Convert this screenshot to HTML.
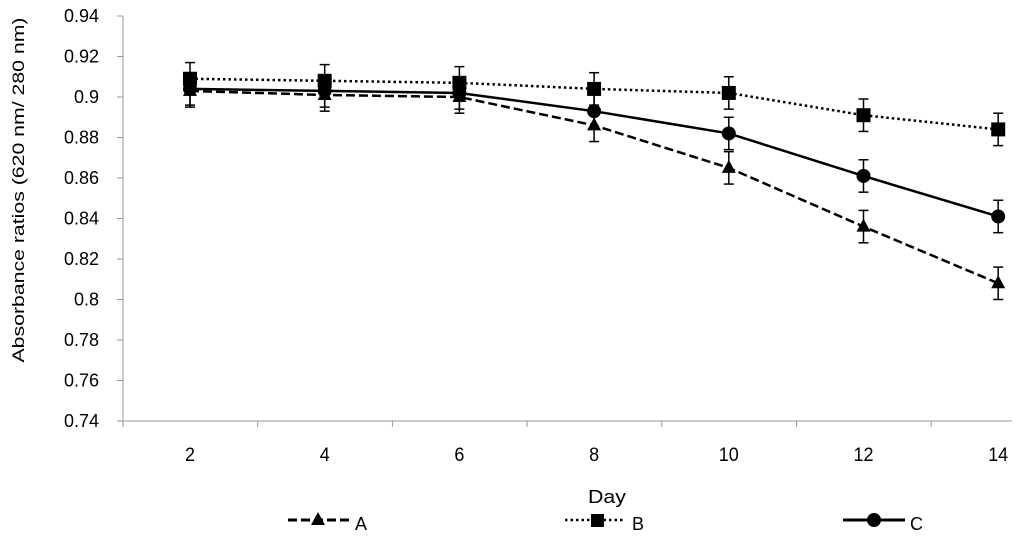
<!DOCTYPE html>
<html><head><meta charset="utf-8"><style>
body{margin:0;background:#fff;}
svg text{font-family:"Liberation Sans",sans-serif;fill:#000;}
</style></head><body>
<svg id="chart" width="1024" height="540" xmlns="http://www.w3.org/2000/svg">
<g id="axes"></g><g id="series"></g>
<text transform="translate(24,190) rotate(-90)" text-anchor="middle" font-size="17" textLength="345" lengthAdjust="spacingAndGlyphs">Absorbance ratios (620 nm/ 280 nm)</text>
<text x="607" y="503" text-anchor="middle" font-size="18" textLength="38" lengthAdjust="spacingAndGlyphs">Day</text>
<g>
<g><line x1="288" y1="520" x2="350" y2="520" stroke="#000" stroke-width="3" stroke-dasharray="9,4"/><polygon points="318,512 311,525 325,525"/><text x="355" y="530" font-size="18">A</text></g>
<g><line x1="565" y1="520" x2="625" y2="520" stroke="#000" stroke-width="2.5" stroke-dasharray="2.5,3"/><rect x="591" y="514" width="13" height="13"/><text x="632" y="530" font-size="18">B</text></g>
<g><line x1="843" y1="520" x2="905" y2="520" stroke="#000" stroke-width="3"/><circle cx="874" cy="520" r="7"/><text x="910" y="530" font-size="18">C</text></g>
</g>
</svg>
<script>
const days=[2,4,6,8,10,12,14];
const yTicks=[0.74,0.76,0.78,0.8,0.82,0.84,0.86,0.88,0.9,0.92,0.94];
const yTickLabels=["0.74","0.76","0.78","0.8","0.82","0.84","0.86","0.88","0.9","0.92","0.94"];
const seriesA=[0.903,0.901,0.900,0.886,0.865,0.836,0.808];
const seriesB=[0.909,0.908,0.907,0.904,0.902,0.891,0.884];
const seriesC=[0.904,0.903,0.902,0.893,0.882,0.861,0.841];
const errA=[0.008,0.008,0.008,0.008,0.008,0.008,0.008];
const errB=[0.008,0.008,0.008,0.008,0.008,0.008,0.008];
const errC=[0.008,0.008,0.008,0.008,0.008,0.008,0.008];
const NS="http://www.w3.org/2000/svg";
const y=v=>421-(v-0.74)/0.2*405;
const xp=i=>190+i*134.7;
function mk(t,a,p){const e=document.createElementNS(NS,t);for(const k in a)e.setAttribute(k,a[k]);p.appendChild(e);return e;}
const ax=document.getElementById('axes');
const ya=mk('line',{x1:123,y1:16,x2:123,y2:421,stroke:'#999','stroke-width':1},ax);


const xa=mk('line',{x1:123,y1:421,x2:1012,y2:421,stroke:'#999','stroke-width':1},ax);


yTicks.forEach((v,i)=>{
  mk('line',{x1:117,y1:y(v),x2:123,y2:y(v),stroke:'#999'},ax);
  const t=mk('text',{x:99,y:y(v)+6,'text-anchor':'end','font-size':18},ax);
  t.textContent=yTickLabels[i];
  
  
});
for(let i=0;i<7;i++){mk('line',{x1:123+i*134.7,y1:421,x2:123+i*134.7,y2:427,stroke:'#999'},ax);}
days.forEach((d,i)=>{
  const t=mk('text',{x:xp(i),y:461,'text-anchor':'middle','font-size':19,textLength:String(d).length*10,lengthAdjust:'spacingAndGlyphs'},ax);
  t.textContent=d;
  
  
});
const sg=document.getElementById('series');
function draw(vals,errs,name,dash,sw,marker){
  const g=mk('g',{},sg);
  
  
  vals.forEach((v,i)=>{
    const x=xp(i),e=errs[i];
    mk('line',{x1:x,y1:y(v+e),x2:x,y2:y(v-e),stroke:'#000','stroke-width':1.5},g);
    mk('line',{x1:x-5,y1:y(v+e),x2:x+5,y2:y(v+e),stroke:'#000','stroke-width':1.5},g);
    mk('line',{x1:x-5,y1:y(v-e),x2:x+5,y2:y(v-e),stroke:'#000','stroke-width':1.5},g);
  });
  const pl=mk('polyline',{points:vals.map((v,i)=>xp(i)+','+y(v)).join(' '),fill:'none',stroke:'#000','stroke-width':sw,'stroke-dasharray':dash},g);
  
  
  vals.forEach((v,i)=>{
    const x=xp(i),yy=y(v);let m;
    if(marker==='tri')m=mk('polygon',{points:`${x},${yy-8} ${x-7},${yy+5} ${x+7},${yy+5}`},g);
    else if(marker==='sq')m=mk('rect',{x:x-7,y:yy-7,width:14,height:14},g);
    else m=mk('circle',{cx:x,cy:yy,r:7},g);
    
    
  });
}
draw(seriesA,errA,'series-a','9,4',2.5,'tri');
draw(seriesB,errB,'series-b','2.5,3',2.5,'sq');
draw(seriesC,errC,'series-c','none',2.5,'circ');
</script>
</body></html>
